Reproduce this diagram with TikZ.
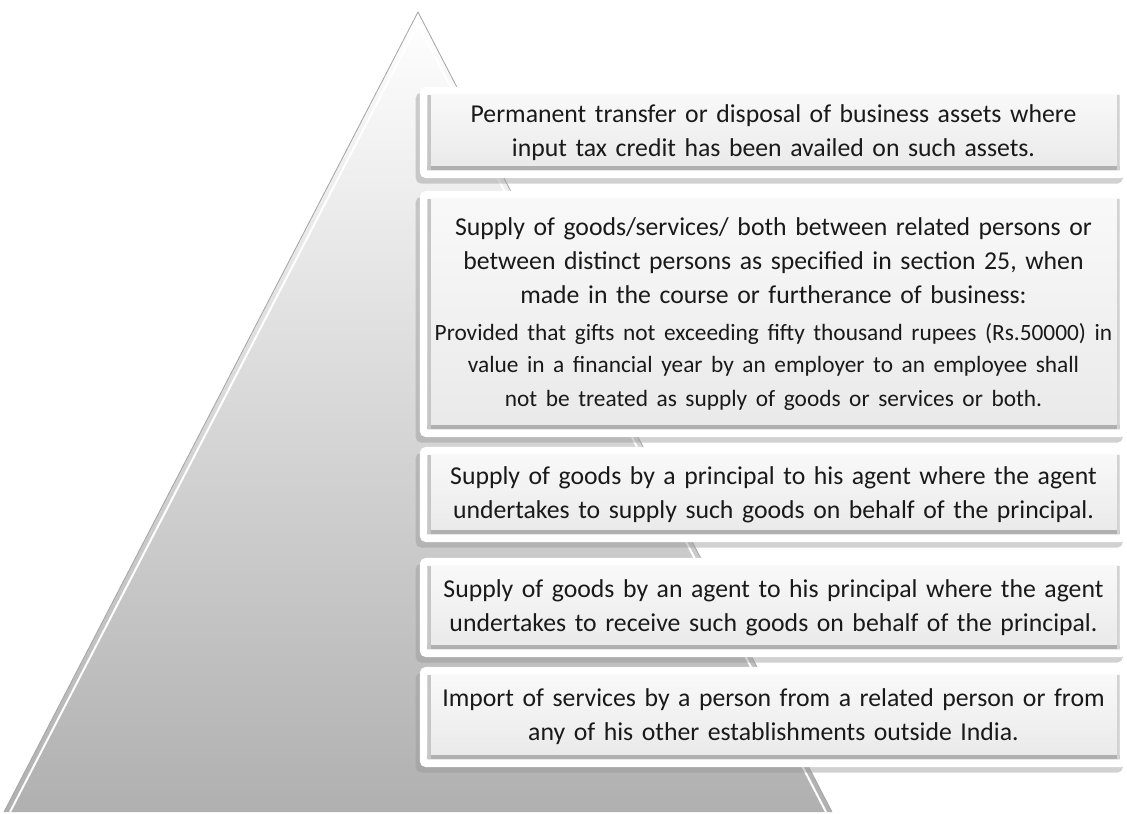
\documentclass[tikz,border=0pt]{standalone}
\usepackage{fontspec}
\setmainfont{Carlito}[WordSpace=0.85]
\usetikzlibrary{positioning, shadows}

\begin{document}
\begin{tikzpicture}[
  x=0.025cm, y=-0.025cm,
  every node/.style={sharp corners},
  frame/.style n args={1}{
    rectangle, rounded corners=4pt, fill=white, inner sep=0pt,
    minimum width=17.675cm, minimum height=#1,
    drop shadow={shadow xshift=-3pt, shadow yshift=-4pt, opacity=0.45, fill=gray!80}
  },
  slab/.style n args={1}{
    rectangle, top color=gray!5, bottom color=gray!17, inner sep=0pt,
    minimum width=17.3cm, minimum height=#1, text width=17.3cm,
    align=center, text=black!90, font=\fontsize{18.3}{24}\selectfont,
    path picture={
      \fill[gray!62] (path picture bounding box.south west)
        rectangle ([yshift=3pt]path picture bounding box.south east);
      \fill[gray!45] (path picture bounding box.south west)
        rectangle ([xshift=2.5pt]path picture bounding box.north west);
      \fill[gray!35] ([xshift=-1.5pt]path picture bounding box.south east)
        rectangle (path picture bounding box.north east);
    }
  }
]
\useasboundingbox (0,0) rectangle (1127,814);

%% Column centre (px)
\def\boxx{773.5}

%% === PYRAMID (drawn directly) ===
\coordinate (apex) at (418,12);
\coordinate (bl) at (4,812);
\coordinate (br) at (832,812);
\shade[top color=white, bottom color=gray!62] (apex) -- (br) -- (bl) -- cycle;
\draw[gray!70, line width=0.6pt] (bl) -- (apex) -- (br);
\draw[white, line width=1.4pt] (10,812) -- (418,24) -- (826,812);

%% === BOX 1 ===
\node[frame={2.275cm}] (f1) at (\boxx, 132.5) {};
\node[slab={1.875cm}] (b1) at (f1.center)
  {Permanent transfer or disposal of business assets where\\
   input tax credit has been availed on such assets.};

%% === BOX 2 ===
\node[frame={6.15cm}] (f2) at (\boxx, 314) {};
\node[slab={5.75cm}] (b2) at (f2.center)
  {Supply of goods/services/ both between related persons or\\
   between distinct persons as specified in section 25, when\\
   made in the course or furtherance of business:\\[4pt]
   \fontsize{16.6}{22.5}\selectfont
   Provided that gifts not exceeding fifty thousand rupees (Rs.50000) in\\
   value in a financial year by an employer to an employee shall\\
   not be treated as supply of goods or services or both.};

%% === BOX 3 ===
\node[frame={2.375cm}] (f3) at (\boxx, 494.5) {};
\node[slab={1.975cm}] (b3) at (f3.center)
  {Supply of goods by a principal to his agent where the agent\\
   undertakes to supply such goods on behalf of the principal.};

%% === BOX 4 ===
\node[frame={2.475cm}] (f4) at (\boxx, 607.5) {};
\node[slab={2.075cm}] (b4) at (f4.center)
  {Supply of goods by an agent to his principal where the agent\\
   undertakes to receive such goods on behalf of the principal.};

%% === BOX 5 ===
\node[frame={2.5cm}] (f5) at (\boxx, 717) {};
\node[slab={2.1cm}] (b5) at (f5.center)
  {Import of services by a person from a related person or from\\
   any of his other establishments outside India.};

\end{tikzpicture}
\end{document}
